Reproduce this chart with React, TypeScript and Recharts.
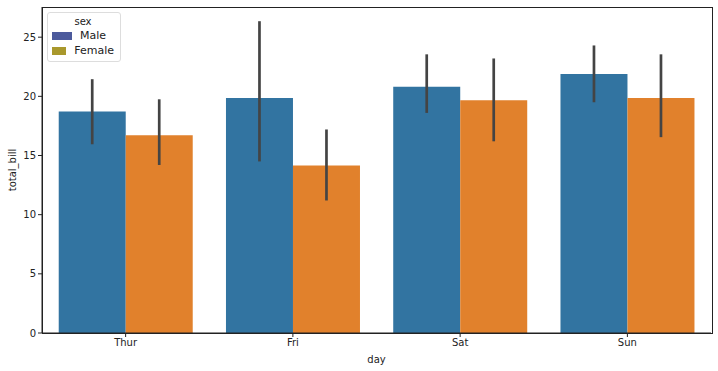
import React from "react";
import { BarChart, Bar, XAxis, YAxis, ErrorBar } from "recharts";

const days = ["Thur", "Fri", "Sat", "Sun"];
const maleBill = [18.71, 19.86, 20.8, 21.89];
const femaleBill = [16.72, 14.15, 19.68, 19.87];
// confidence interval ends [low, high]
const maleCi = [
  [15.95, 21.45],
  [14.5, 26.35],
  [18.6, 23.55],
  [19.5, 24.3],
];
const femaleCi = [
  [14.2, 19.75],
  [11.2, 17.2],
  [16.2, 23.2],
  [16.55, 23.55],
];
const yTicks = [0, 5, 10, 15, 20, 25];

const data = days.map((day, i) => ({
  day,
  Male: maleBill[i],
  Female: femaleBill[i],
  maleErr: [maleBill[i] - maleCi[i][0], maleCi[i][1] - maleBill[i]],
  femaleErr: [femaleBill[i] - femaleCi[i][0], femaleCi[i][1] - femaleBill[i]],
}));

const font = "'DejaVu Sans', sans-serif";

const LegendBox = () => (
  <div
    style={{
      position: "absolute",
      left: 47,
      top: 12,
      border: "1px solid #dddddd",
      borderRadius: 3,
      background: "rgba(255,255,255,0.8)",
      padding: "3px 6px 3px 4px",
      fontFamily: font,
      fontSize: 10,
      color: "#222",
      width: 62,
    }}
  >
    <div style={{ textAlign: "center", marginBottom: 1 }}>sex</div>
    {[
      { name: "Male", color: "#4c5a9c" },
      { name: "Female", color: "#a9982c" },
    ].map((e) => (
      <div key={e.name} style={{ display: "flex", alignItems: "center", height: 15 }}>
        <span style={{ width: 20, height: 8, background: e.color, marginRight: 8 }} />
        <span style={{ fontSize: 11 }}>{e.name}</span>
      </div>
    ))}
  </div>
);

export default function App() {
  return (
    <div style={{ position: "absolute", left: 0, top: 0, width: 718, height: 371, background: "#fff" }}>
      <BarChart
        width={718}
        height={371}
        data={data}
        margin={{ top: 7, right: 7, bottom: 0, left: 0 }}
        barCategoryGap="10%"
        barGap={0}
      >
        <XAxis
          dataKey="day"
          height={38}
          stroke="#222"
          tick={{ fill: "#222", fontSize: 10, fontFamily: font }}
          tickLine={{ stroke: "#222" }}
          tickSize={4}
          label={{
            value: "day",
            position: "insideBottom",
            offset: 8,
            fill: "#222",
            fontSize: 10,
            fontFamily: font,
          }}
        />
        <YAxis
          width={42}
          domain={[0, 27.55]}
          ticks={yTicks}
          stroke="#222"
          tick={{ fill: "#222", fontSize: 10, fontFamily: font }}
          tickSize={4}
          label={{
            value: "total_bill",
            angle: -90,
            position: "insideLeft",
            offset: 12,
            fill: "#222",
            fontSize: 10,
            fontFamily: font,
            style: { textAnchor: "middle" },
          }}
        />
        <Bar dataKey="Male" fill="#3274a1" isAnimationActive={false}>
          <ErrorBar dataKey="maleErr" width={0} stroke="#444" strokeWidth={2.7} />
        </Bar>
        <Bar dataKey="Female" fill="#e1812c" isAnimationActive={false}>
          <ErrorBar dataKey="femaleErr" width={0} stroke="#444" strokeWidth={2.7} />
        </Bar>
      </BarChart>
      <div
        style={{
          position: "absolute",
          left: 42,
          top: 7,
          width: 669,
          height: 325,
          border: "1px solid #222",
          pointerEvents: "none",
        }}
      />
      <LegendBox />
    </div>
  );
}
